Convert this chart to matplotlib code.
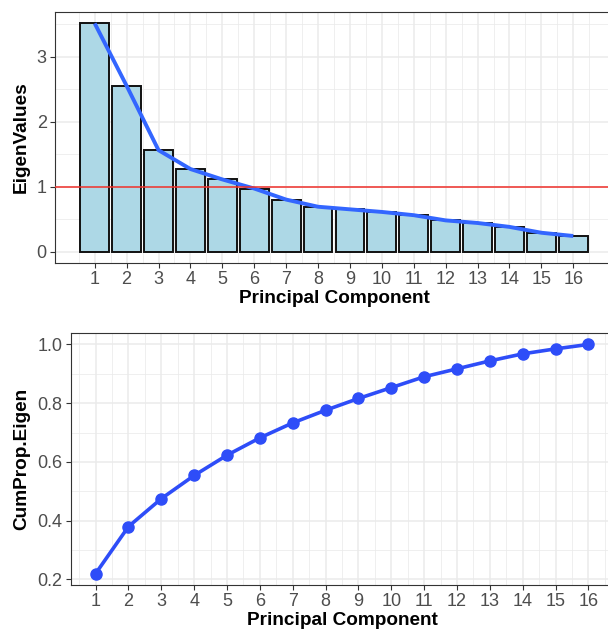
import numpy as np
import matplotlib
matplotlib.use("Agg")
import matplotlib.pyplot as plt

# valores
componentes = list(range(1, 17))
eigen_values = [3.51, 2.55, 1.56, 1.27, 1.11, 0.97, 0.80, 0.69,
                0.65, 0.61, 0.56, 0.48, 0.44, 0.38, 0.29, 0.24]
cum_prop = [0.220, 0.380, 0.475, 0.554, 0.623, 0.682, 0.733, 0.776,
            0.816, 0.853, 0.890, 0.917, 0.944, 0.968, 0.985, 1.000]

W, H = 608, 633
plt.rcParams['font.family'] = ['Liberation Sans', 'DejaVu Sans']

fig = plt.figure(figsize=(W / 100, H / 100), dpi=100)
fig.patch.set_facecolor('white')


def estilo_bw(ax):
    """Imita theme_bw de ggplot"""
    ax.set_facecolor('white')
    ax.grid(True, which='major', color='#EBEBEB', linewidth=1.1, zorder=0)
    ax.grid(True, which='minor', color='#EBEBEB', linewidth=0.55, zorder=0)
    ax.set_axisbelow(True)
    for s in ax.spines.values():
        s.set_color('#333333')
        s.set_linewidth(0.8)
    ax.tick_params(which='major', direction='out', length=3.5, width=0.8,
                   color='#333333', labelcolor='#4D4D4D', labelsize=13, pad=2.5)
    ax.tick_params(which='minor', length=0)


def px_axes(left, top, right, bottom):
    return fig.add_axes([left / W, 1 - bottom / H, (right - left) / W, (bottom - top) / H])


# Panel superior: eigenvalores
ax1 = px_axes(55, 12, 613, 263)
estilo_bw(ax1)
ax1.bar(componentes, eigen_values, width=0.9, color='#ADD8E6',
        edgecolor='#111111', linewidth=1.4, zorder=2)
ax1.plot(componentes, eigen_values, color='#3366FF', linewidth=2.8,
         solid_capstyle='butt', solid_joinstyle='round', zorder=3)
ax1.axhline(1, color='#F0302A', linewidth=1.1, zorder=4)
rx = 16.45 - 0.55
ax1.set_xlim(0.55 - 0.05 * rx, 16.45 + 0.05 * rx)
ry = max(eigen_values)
ax1.set_ylim(-0.05 * ry, ry * 1.05)
ax1.set_xticks(componentes)
ax1.set_xticks(np.arange(0.5, 17, 1.0), minor=True)
ax1.set_yticks([0, 1, 2, 3])
ax1.set_yticks([0.5, 1.5, 2.5, 3.5], minor=True)
ax1.set_xlabel('Principal Component', fontsize=13.7, fontweight='bold', labelpad=1)
ax1.set_ylabel('EigenValues', fontsize=13.7, fontweight='bold', labelpad=5)

# Panel inferior: proporcion acumulada
ax2 = px_axes(71, 333, 613, 585)
estilo_bw(ax2)
ax2.plot(componentes, cum_prop, color='#2E4DF8', linewidth=2.6, marker='o',
         markersize=8, zorder=3)
ax2.set_xlim(1 - 0.05 * 15, 16 + 0.05 * 15)
ry2 = max(cum_prop) - min(cum_prop)
ax2.set_ylim(min(cum_prop) - 0.05 * ry2, max(cum_prop) + 0.05 * ry2)
ax2.set_xticks(componentes)
ax2.set_xticks(np.arange(0.5, 17, 1.0), minor=True)
ax2.set_yticks([0.2, 0.4, 0.6, 0.8, 1.0])
ax2.set_yticklabels(['0.2', '0.4', '0.6', '0.8', '1.0'])
ax2.set_yticks([0.3, 0.5, 0.7, 0.9], minor=True)
ax2.set_xlabel('Principal Component', fontsize=13.7, fontweight='bold', labelpad=1)
ax2.set_ylabel('CumProp.Eigen', fontsize=13.7, fontweight='bold', labelpad=5)

fig.savefig('out.png', dpi=100, facecolor='white')
